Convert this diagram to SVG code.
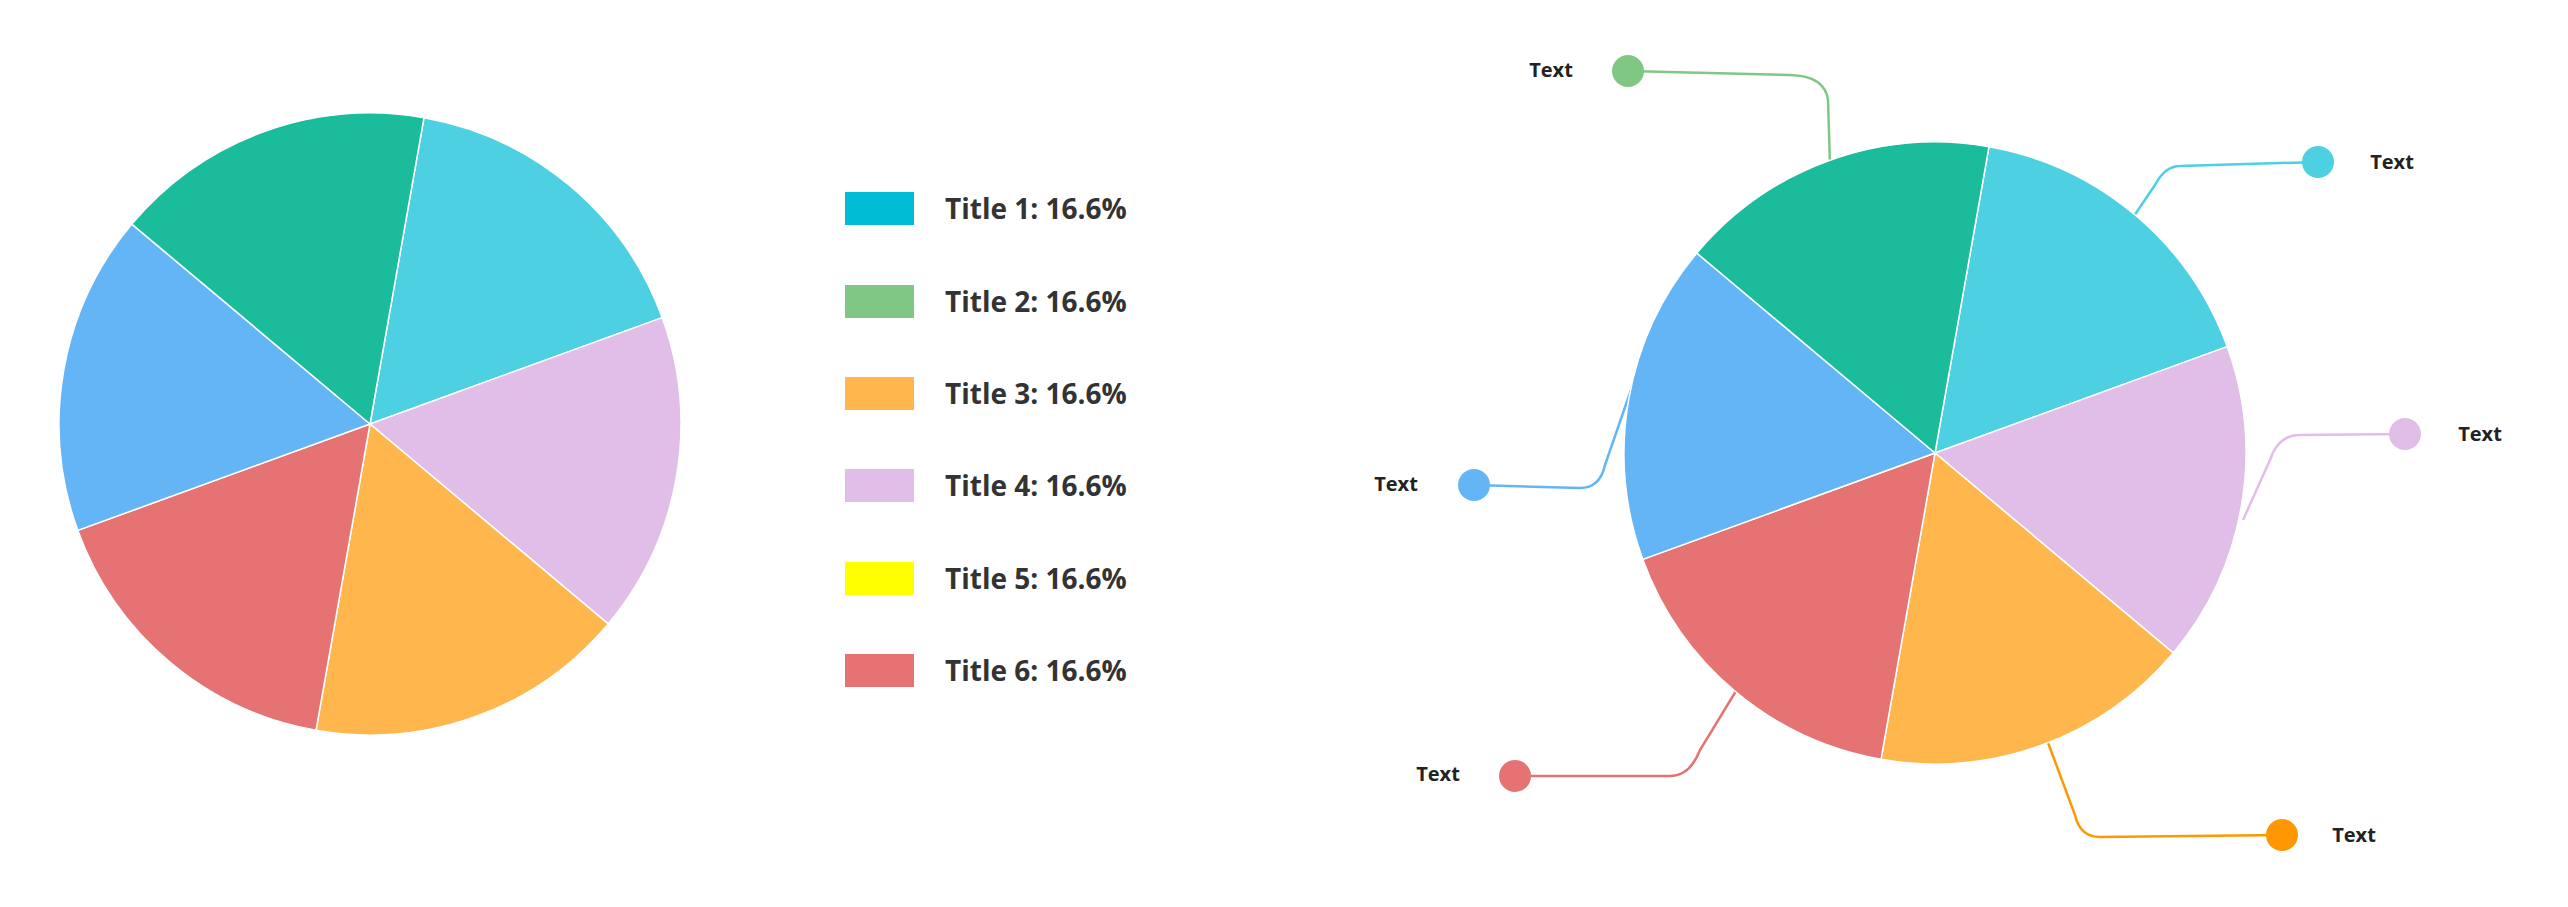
<svg xmlns="http://www.w3.org/2000/svg" width="2568" height="907" viewBox="0 0 2568 907">
<style>
.s{stroke:#fff;stroke-width:1.5}
.lg{font-family:"Segoe UI","Open Sans","Liberation Sans",sans-serif;font-weight:bold;font-size:28px;fill:#333}
.tx{font-family:"Segoe UI","Open Sans","Liberation Sans",sans-serif;font-weight:bold;font-size:20px;fill:#222;text-anchor:middle;dominant-baseline:middle}
.c{fill:none;stroke-width:2.5}
</style>
<rect width="2568" height="907" fill="#fff"/>
<g id="pie-left">
<path class="s" fill="#4DD0E1" d="M370,424 L424,117.7 A311,311 0 0 1 662.2,317.6 Z"/>
<path class="s" fill="#E1BEE7" d="M370,424 L662.2,317.6 A311,311 0 0 1 608.2,623.9 Z"/>
<path class="s" fill="#FFB74D" d="M370,424 L608.2,623.9 A311,311 0 0 1 316,730.3 Z"/>
<path class="s" fill="#E57373" d="M370,424 L316,730.3 A311,311 0 0 1 77.8,530.4 Z"/>
<path class="s" fill="#64B5F6" d="M370,424 L77.8,530.4 A311,311 0 0 1 131.8,224.1 Z"/>
<path class="s" fill="#1ABC9C" d="M370,424 L131.8,224.1 A311,311 0 0 1 424,117.7 Z"/>
</g>
<g id="legend">
<rect x="845" y="192" width="69" height="33" fill="#00BCD4"/><text class="lg" x="945" y="219">Title 1: 16.6%</text>
<rect x="845" y="285" width="69" height="33" fill="#81C784"/><text class="lg" x="945" y="312">Title 2: 16.6%</text>
<rect x="845" y="377" width="69" height="33" fill="#FFB74D"/><text class="lg" x="945" y="404">Title 3: 16.6%</text>
<rect x="845" y="469" width="69" height="33" fill="#E1BEE7"/><text class="lg" x="945" y="496">Title 4: 16.6%</text>
<rect x="845" y="562" width="69" height="33" fill="#FFFF00"/><text class="lg" x="945" y="589">Title 5: 16.6%</text>
<rect x="845" y="654" width="69" height="33" fill="#E57373"/><text class="lg" x="945" y="681">Title 6: 16.6%</text>
</g>
<g id="connectors">
<path class="c" stroke="#81C784" d="M1628,71 L1790,75 Q1825,76 1828,100 L1830,165"/>
<path class="c" stroke="#4DD0E1" d="M2318,162 L2180,166 Q2165,166 2155,185 L2134,216"/>
<path class="c" stroke="#E1BEE7" d="M2405,434 L2300,435 Q2278,435 2270,460 L2243,520"/>
<path class="c" stroke="#64B5F6" d="M1474,485 L1580,488 Q1600,488 1605,465 L1632,387"/>
<path class="c" stroke="#E57373" d="M1515,776 L1670,776 Q1690,776 1700,750 L1736,691"/>
<path class="c" stroke="#FF9800" d="M2282,835 L2100,837 Q2080,837 2075,815 L2047,740"/>
</g>
<g id="pie-right">
<path class="s" fill="#4DD0E1" d="M1935,453 L1989,146.7 A311,311 0 0 1 2227.2,346.6 Z"/>
<path class="s" fill="#E1BEE7" d="M1935,453 L2227.2,346.6 A311,311 0 0 1 2173.2,652.9 Z"/>
<path class="s" fill="#FFB74D" d="M1935,453 L2173.2,652.9 A311,311 0 0 1 1881,759.3 Z"/>
<path class="s" fill="#E57373" d="M1935,453 L1881,759.3 A311,311 0 0 1 1642.8,559.4 Z"/>
<path class="s" fill="#64B5F6" d="M1935,453 L1642.8,559.4 A311,311 0 0 1 1696.8,253.1 Z"/>
<path class="s" fill="#1ABC9C" d="M1935,453 L1696.8,253.1 A311,311 0 0 1 1989,146.7 Z"/>
</g>
<g id="callouts">
<circle cx="1628" cy="71" r="16" fill="#81C784"/><text class="tx" x="1551" y="72">Text</text>
<circle cx="2318" cy="162" r="16" fill="#4DD0E1"/><text class="tx" x="2392" y="164">Text</text>
<circle cx="2405" cy="434" r="16" fill="#E1BEE7"/><text class="tx" x="2480" y="436">Text</text>
<circle cx="1474" cy="485" r="16" fill="#64B5F6"/><text class="tx" x="1396" y="486">Text</text>
<circle cx="1515" cy="776" r="16" fill="#E57373"/><text class="tx" x="1438" y="776">Text</text>
<circle cx="2282" cy="835" r="16" fill="#FF9800"/><text class="tx" x="2354" y="837">Text</text>
</g>
</svg>
